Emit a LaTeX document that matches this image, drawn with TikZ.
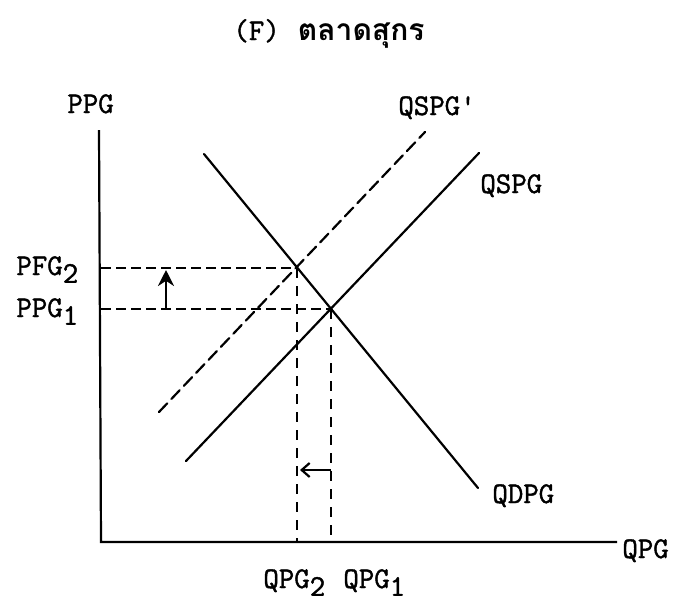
\documentclass[tikz,border=0pt]{standalone}
\usepackage{fontspec}
\newfontfamily\lblfont{Latin Modern Mono}[FakeBold=1.4]
\newfontfamily\thaifont[Script=Thai]{Loma}
\usepackage{tikz}
\usetikzlibrary{arrows.meta,calc}
\newcommand{\lsub}[1]{\raisebox{-0.6ex}{#1}}
\tikzset{
  axisline/.style={line width=1.1pt},
  curve/.style={line width=1.1pt, line cap=round},
  newcurve/.style={curve, dash pattern=on 6pt off 3pt},
  guide/.style={line width=1.1pt, dash pattern=on 5pt off 2.5pt},
  vguide/.style={line width=1.1pt, dash pattern=on 5pt off 4pt},
  uparrow/.style={-{Stealth[length=8pt,width=8pt]}, line width=1.1pt},
  leftarrow/.style={-{Straight Barb[length=4pt,width=7pt]}, line width=1.1pt},
  lbl/.style={font=\lblfont\fontsize{15}{17}\selectfont, inner sep=0pt, anchor=base west},
  ttl/.style={font=\fontsize{15}{17}\selectfont, inner sep=0pt, anchor=base west}
}
\begin{document}
\begin{tikzpicture}[x=0.5pt,y=-0.5pt]
\useasboundingbox (0,0) rectangle (690,601);
\coordinate (o) at (101,542);
\coordinate (ytop) at (99,130);
\coordinate (xend) at (617,542);
\coordinate (d0) at (204,154);
\coordinate (d1) at (478,488);
\coordinate (s0) at (186,461);
\coordinate (s1) at (479,153);
\coordinate (t0) at (159,412);
\coordinate (t1) at (425,132);
\coordinate (e1) at (331,309);
\coordinate (e2) at (297,268);
\coordinate (a0) at (166,309);
\coordinate (a1) at (166,270);
\coordinate (b0) at (331,470);
\coordinate (b1) at (300,470);
\node[ttl] (title) at (233,40) {{\lblfont (F)}\ \ {\thaifont\bfseries ตลาดสุกร}};
\draw[axisline] (ytop) -- (o) -- (xend);
\draw[curve] (d0) -- (d1);
\draw[curve] (s0) -- (s1);
\draw[newcurve] (t0) -- (t1);
\draw[guide] (o |- e2) -- (e2);
\draw[guide] (o |- e1) -- (e1);
\draw[vguide] (e2) -- (e2 |- o);
\draw[vguide] (e1) -- (e1 |- o);
\draw[uparrow] (a0) -- (a1);
\draw[leftarrow] (b0) -- (b1);
\node[lbl] (ppg) at (67,113) {PPG};
\node[lbl] (pfg2) at (16,275) {PFG\lsub{2}};
\node[lbl] (ppg1) at (16,317) {PPG\lsub{1}};
\node[lbl] (qspgn) at (398,115) {QSPG'};
\node[lbl] (qspg) at (480,193) {QSPG};
\node[lbl] (qdpg) at (492,503) {QDPG};
\node[lbl] (qpg) at (622,558) {QPG};
\node[lbl] (qpg2) at (263,588) {QPG\lsub{2}};
\node[lbl] (qpg1) at (343,588) {QPG\lsub{1}};
\end{tikzpicture}
\end{document}
